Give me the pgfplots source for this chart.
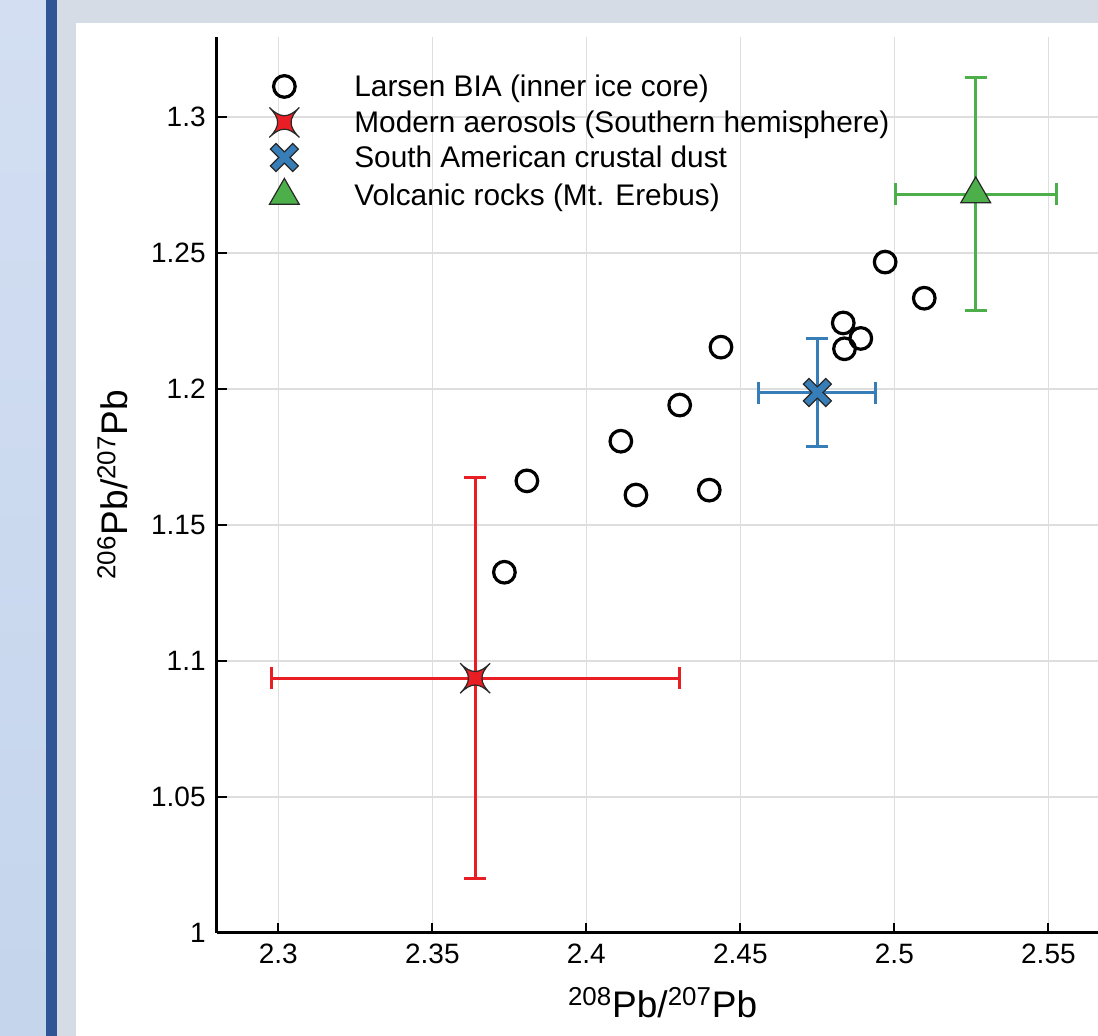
\documentclass[border=0pt]{standalone}
\usepackage{fontspec}
\setmainfont{Liberation Sans}
\usepackage{pgfplots}
\pgfplotsset{compat=1.18}
\definecolor{panelgray}{RGB}{214,220,230}
\definecolor{paneltop}{RGB}{211,222,242}
\definecolor{panelbot}{RGB}{196,213,236}
\definecolor{barblue}{RGB}{47,85,151}
\definecolor{gridgray}{RGB}{222,222,222}
\definecolor{aerored}{RGB}{232,30,36}
\definecolor{dustblue}{RGB}{55,126,184}
\definecolor{volcgreen}{RGB}{77,175,74}
\definecolor{edge}{RGB}{40,40,40}
\newcommand{\TickFont}{\fontsize{14}{16}\selectfont}
\newcommand{\LegFont}{\fontsize{14.9}{17}\selectfont}
\newcommand{\LabFont}{\fontsize{18.5}{22}\selectfont}

% four-pointed star, tips on the diagonals
\pgfdeclareplotmark{star4}{%
  \pgfpathmoveto{\pgfqpoint{7.5pt}{7.5pt}}%
  \pgfpathcurveto{\pgfqpoint{2pt}{2pt}}{\pgfqpoint{-2pt}{2pt}}{\pgfqpoint{-7.5pt}{7.5pt}}%
  \pgfpathcurveto{\pgfqpoint{-2pt}{2pt}}{\pgfqpoint{-2pt}{-2pt}}{\pgfqpoint{-7.5pt}{-7.5pt}}%
  \pgfpathcurveto{\pgfqpoint{-2pt}{-2pt}}{\pgfqpoint{2pt}{-2pt}}{\pgfqpoint{7.5pt}{-7.5pt}}%
  \pgfpathcurveto{\pgfqpoint{2pt}{-2pt}}{\pgfqpoint{2pt}{2pt}}{\pgfqpoint{7.5pt}{7.5pt}}%
  \pgfpathclose
  \pgfusepathqfillstroke}
% thick filled x
\pgfdeclareplotmark{fatx}{%
  \pgftransformrotate{45}%
  \pgfpathmoveto{\pgfqpoint{2pt}{7.9pt}}%
  \pgfpathlineto{\pgfqpoint{-2pt}{7.9pt}}%
  \pgfpathlineto{\pgfqpoint{-2pt}{2pt}}%
  \pgfpathlineto{\pgfqpoint{-7.9pt}{2pt}}%
  \pgfpathlineto{\pgfqpoint{-7.9pt}{-2pt}}%
  \pgfpathlineto{\pgfqpoint{-2pt}{-2pt}}%
  \pgfpathlineto{\pgfqpoint{-2pt}{-7.9pt}}%
  \pgfpathlineto{\pgfqpoint{2pt}{-7.9pt}}%
  \pgfpathlineto{\pgfqpoint{2pt}{-2pt}}%
  \pgfpathlineto{\pgfqpoint{7.9pt}{-2pt}}%
  \pgfpathlineto{\pgfqpoint{7.9pt}{2pt}}%
  \pgfpathlineto{\pgfqpoint{2pt}{2pt}}%
  \pgfpathclose
  \pgfusepathqfillstroke}

\begin{document}
\begin{tikzpicture}
% slide background
\fill[panelgray] (0,0) rectangle (549pt,518pt);
\shade[top color=paneltop, bottom color=panelbot] (0,0) rectangle (22.85pt,518pt);
\fill[barblue] (22.85pt,0) rectangle (28.65pt,518pt);
\fill[white] (38pt,0) rectangle (549pt,506.65pt);

\begin{axis}[
    at={(108.35pt,51.65pt)}, anchor=south west,
    scale only axis,
    width=440.65pt, height=447.85pt,
    xmin=2.28, xmax=2.5661,
    ymin=1, ymax=1.3295,
    xtick={2.3,2.35,2.4,2.45,2.5,2.55},
    ytick={1,1.05,1.1,1.15,1.2,1.25,1.3},
    axis x line*=bottom, axis y line*=left,
    axis line style={-, line width=1.5pt, black},
    tick align=inside,
    major tick length=5pt,
    tick style={line width=1pt, black},
    grid=major,
    grid style={line width=0.8pt, draw=gridgray},
    /pgf/number format/assume math mode=true,
    /pgf/number format/fixed,
    tick label style={font=\TickFont, text=black},
    xticklabel style={yshift=-2pt},
    yticklabel style={xshift=-2pt},
    xlabel={\textsuperscript{208}Pb/\textsuperscript{207}Pb},
    ylabel={\textsuperscript{206}Pb/\textsuperscript{207}Pb},
    xlabel style={font=\LabFont, at={(axis description cs:0.506,0)}, anchor=center, yshift=-35pt},
    ylabel style={font=\LabFont, at={(axis description cs:-0.118,0.5)}, anchor=center},
    legend style={at={(axis description cs:0.050,0.9642)}, anchor=north west,
        draw=none, fill=none, font=\LegFont, row sep=0pt,
        nodes={text height=9.5pt, text depth=3.5pt}},
    legend cell align=left,
    legend image code/.code={%
        \path[draw=none, fill=none] (-8.6pt,2pt) (33pt,2pt);
        \draw[mark repeat=2,mark phase=2,#1] plot coordinates {(-10pt,2pt)(0pt,2pt)(10pt,2pt)};},
    clip=false
]
% error bars (drawn first, under the markers)
\addplot[draw=none, forget plot, error bars/.cd, x dir=both, x explicit, y dir=both, y explicit,
    error bar style={draw=aerored, line width=1.5pt},
    error mark options={rotate=90, draw=aerored, line width=1.5pt, mark size=5.5pt}]
    coordinates {(2.3639,1.0936) +- (0.0662,0.0738)};
\addplot[draw=none, forget plot, error bars/.cd, x dir=both, x explicit, y dir=both, y explicit,
    error bar style={draw=dustblue, line width=1.5pt},
    error mark options={rotate=90, draw=dustblue, line width=1.5pt, mark size=5.5pt}]
    coordinates {(2.4750,1.1987) +- (0.0190,0.0200)};
\addplot[draw=none, forget plot, error bars/.cd, x dir=both, x explicit, y dir=both, y explicit,
    error bar style={draw=volcgreen, line width=1.5pt},
    error mark options={rotate=90, draw=volcgreen, line width=1.5pt, mark size=5.5pt}]
    coordinates {(2.5264,1.2717) +- (0.0261,0.0428)};

% Larsen BIA (inner ice core)
\addplot[only marks, mark=o, mark size=5.4pt, mark options={line width=1.6pt, draw=black, fill=none}]
    coordinates {
    (2.3734,1.1326) (2.3807,1.1662) (2.4112,1.1808) (2.4161,1.1610)
    (2.4303,1.1941) (2.4399,1.1628) (2.4437,1.2154) (2.4834,1.2243)
    (2.4838,1.2148) (2.4891,1.2186) (2.4970,1.2467) (2.5097,1.2334)
    };
\addlegendentry{Larsen BIA (inner ice core)}
\addplot[only marks, mark=star4, mark options={fill=aerored, draw=edge, line width=0.6pt}]
    coordinates {(2.3639,1.0936)};
\addlegendentry{Modern aerosols (Southern hemisphere)}
\addplot[only marks, mark=fatx, mark options={fill=dustblue, draw=edge, line width=0.6pt}]
    coordinates {(2.4750,1.1987)};
\addlegendentry{South American crustal dust}
\addplot[only marks, mark=triangle*, mark size=8.6pt, mark options={fill=volcgreen, draw=edge, line width=0.6pt}]
    coordinates {(2.5264,1.2717)};
\addlegendentry{Volcanic rocks (Mt. Erebus)}
\end{axis}
\pgfresetboundingbox
\useasboundingbox (0,0) rectangle (549pt,518pt);
\end{tikzpicture}
\end{document}
